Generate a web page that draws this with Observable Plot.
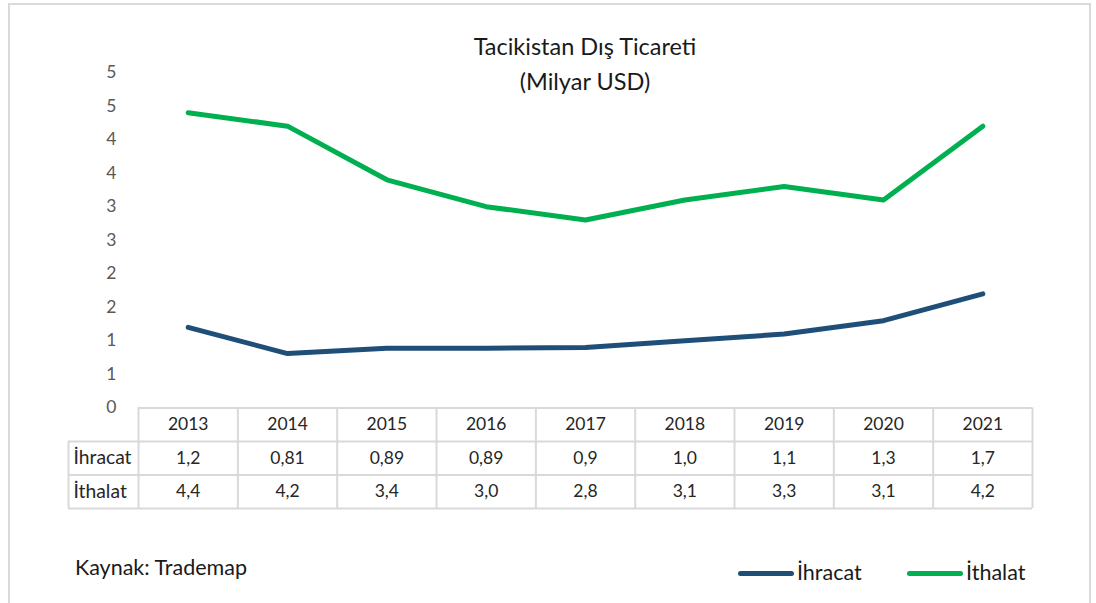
<!DOCTYPE html>
<html><head><meta charset="utf-8">
<script src="https://cdn.jsdelivr.net/npm/d3@7"></script>
<script src="https://cdn.jsdelivr.net/npm/@observablehq/plot@0.6"></script>
<style>
body{margin:0;background:#fff;font-family:Lato,sans-serif;}
#wrap{position:relative;width:1096px;height:603px;overflow:hidden;background:#fff;}
#frame{position:absolute;left:8px;top:3px;width:1083px;height:700px;border:2.5px solid #d9d9d9;box-sizing:border-box;}
#chart{position:absolute;left:0;top:0;}
#title{position:absolute;left:385px;top:29px;width:400px;text-align:center;font-size:23.5px;line-height:35px;color:#1a1a1a;white-space:nowrap;}
#caption{position:absolute;left:75px;top:554px;font-size:21.5px;line-height:26px;color:#1a1a1a;white-space:nowrap;}
.swatch{position:absolute;height:5px;border-radius:3px;}
.ltext{position:absolute;font-size:21.5px;line-height:26px;color:#1a1a1a;white-space:nowrap;}
</style></head>
<body>
<div id="wrap">
  <div id="frame"></div>
  <div id="chart"></div>
  <div id="title">Tacikistan Dış Ticareti<br>(Milyar USD)</div>
  <div id="caption">Kaynak: Trademap</div>
  <div id="legend"></div>
</div>
<script>
const years = [2013, 2014, 2015, 2016, 2017, 2018, 2019, 2020, 2021];
const ihracat = [1.2, 0.81, 0.89, 0.89, 0.9, 1.0, 1.1, 1.3, 1.7];
const ithalat = [4.4, 4.2, 3.4, 3.0, 2.8, 3.1, 3.3, 3.1, 4.2];
const ihracatLabels = ["1,2", "0,81", "0,89", "0,89", "0,9", "1,0", "1,1", "1,3", "1,7"];
const ithalatLabels = ["4,4", "4,2", "3,4", "3,0", "2,8", "3,1", "3,3", "3,1", "4,2"];
const seriesNames = ["İhracat", "İthalat"];
const seriesColors = ["#1f4e79", "#00b050"];
const yTicks = [0, 0.5, 1, 1.5, 2, 2.5, 3, 3.5, 4, 4.5, 5];
const yTickLabels = ["0", "1", "1", "2", "2", "3", "3", "4", "4", "5", "5"];

const seriesValues = [ihracat, ithalat];
const seriesLabels = [ihracatLabels, ithalatLabels];

const rows = seriesNames.flatMap((s, k) => years.map((yr, i) => ({series: s, year: yr, value: seriesValues[k][i]})));

// table layout in scale units
const colLeft = years[0] - 0.5, colRight = years[years.length - 1] + 0.5;
const labelColLeft = colLeft - 0.705;
const rowH = 0.5;
const headerCenter = -rowH / 2;
const rowCenter = k => -rowH * (k + 1) - rowH / 2;
const tableBottom = -rowH * (seriesNames.length + 1);

const hLines = [{y: 0, x1: colLeft, x2: colRight}];
for (let k = 0; k <= seriesNames.length; k++) hLines.push({y: -rowH * (k + 1), x1: labelColLeft, x2: colRight});
const vLines = d3.range(years.length + 1).map(i => ({x: colLeft + i, y1: 0, y2: tableBottom}));
vLines.push({x: labelColLeft, y1: -rowH, y2: tableBottom});

const cells = seriesNames.flatMap((s, k) => years.map((yr, i) => ({year: yr, row: k, text: seriesLabels[k][i]})));

const textColor = "#262626";
const fs = 17.5;

const plot = Plot.plot({
  width: 1096, height: 603,
  marginLeft: 68, marginRight: 64, marginTop: 72, marginBottom: 95,
  x: {domain: [labelColLeft, colRight], axis: null},
  y: {domain: [tableBottom, 5], axis: null},
  color: {domain: seriesNames, range: seriesColors},
  style: {fontFamily: "Lato, sans-serif", background: "transparent", overflow: "visible"},
  marks: [
    Plot.text(yTicks, {x: () => colLeft, y: d => d, text: (d, i) => yTickLabels[i], textAnchor: "end", dx: -22, fill: "#595959", fontSize: 17.5}),
    Plot.ruleY(hLines, {y: "y", x1: "x1", x2: "x2", stroke: "#d9d9d9", strokeWidth: 2}),
    Plot.ruleX(vLines, {x: "x", y1: "y1", y2: "y2", stroke: "#d9d9d9", strokeWidth: 2}),
    Plot.text(years, {x: d => d, y: () => headerCenter, text: d => String(d), fill: textColor, fontSize: fs}),
    Plot.text(seriesNames, {x: () => labelColLeft, y: (d, k) => rowCenter(k), text: d => d, textAnchor: "start", dx: 5, fill: textColor, fontSize: 19.3}),
    Plot.text(cells, {x: "year", y: d => rowCenter(d.row), text: "text", fill: textColor, fontSize: fs}),
    Plot.line(rows, {x: "year", y: "value", z: "series", stroke: "series", strokeWidth: 5, strokeLinecap: "round", strokeLinejoin: "round"})
  ]
});
document.getElementById("chart").appendChild(plot);

// legend
const legend = document.getElementById("legend");
const legendSwatchLeft = [738, 907];
seriesNames.forEach((s, k) => {
  const sw = document.createElement("span");
  sw.className = "swatch";
  sw.style.cssText = `left:${legendSwatchLeft[k]}px;top:570.5px;width:56px;background:${seriesColors[k]}`;
  legend.appendChild(sw);
  const t = document.createElement("span");
  t.className = "ltext";
  t.style.cssText = `left:${legendSwatchLeft[k] + 59}px;top:558.5px;`;
  t.textContent = s;
  legend.appendChild(t);
});
</script>
</body></html>
